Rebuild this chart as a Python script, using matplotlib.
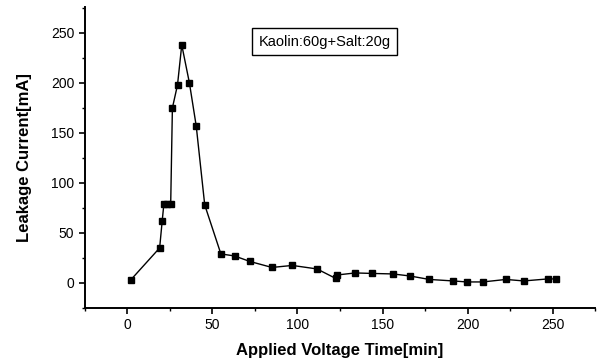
import matplotlib
matplotlib.use("Agg")
import matplotlib.pyplot as plt
from matplotlib.ticker import MultipleLocator

# leakage current vs applied voltage time
time_min = [2, 19, 20.5, 21.5, 23.5, 25.5, 26.5, 29.5, 32, 36.5, 40.5, 45.5,
            55, 63, 72, 85, 97, 111.5, 122.5, 123.5, 134, 144, 156, 166,
            177.5, 191.5, 199.5, 209, 222.5, 233, 247, 252]
current_ma = [3, 35, 62, 79, 79, 79, 175, 198, 238, 200, 157, 78,
              29, 27, 21.5, 15.5, 17.5, 14, 4.5, 8, 10, 9.5, 9, 7,
              3.5, 2, 1, 1, 3.5, 2, 4, 4]
legend_text = "Kaolin:60g+Salt:20g"
x_ticks = [0, 50, 100, 150, 200, 250]
y_ticks = [0, 50, 100, 150, 200, 250]

plt.rcParams['font.family'] = ['Liberation Sans', 'DejaVu Sans']

fig = plt.figure(figsize=(5.97, 3.64), dpi=100)
ax = fig.add_axes([0.142, 0.154, 0.855, 0.827])

ax.plot(time_min, current_ma, color='black', linewidth=1.0,
        marker='s', markersize=4.5, markerfacecolor='black',
        markeredgecolor='black')

ax.set_xlim(-25, 275)
ax.set_ylim(-25, 276)
ax.set_xticks(x_ticks)
ax.set_yticks(y_ticks)
ax.xaxis.set_minor_locator(MultipleLocator(25))
ax.yaxis.set_minor_locator(MultipleLocator(25))
ax.tick_params(which='major', direction='out', length=4, width=1.2,
               labelsize=10, colors='black')
ax.tick_params(which='minor', direction='out', length=2.5, width=1.0)

for side in ['top', 'right']:
    ax.spines[side].set_visible(False)
for side in ['left', 'bottom']:
    ax.spines[side].set_linewidth(1.4)

ax.set_xlabel('Applied Voltage Time[min]', fontsize=12, fontweight='bold',
              labelpad=8)
ax.set_ylabel('Leakage Current[mA]', fontsize=12, fontweight='bold',
              labelpad=14)

ax.text(0.47, 0.885, legend_text, transform=ax.transAxes, fontsize=10.5,
        ha='center', va='center',
        bbox=dict(boxstyle='square,pad=0.45', facecolor='white',
                  edgecolor='black', linewidth=1.0))

fig.savefig('out.png', dpi=100)
